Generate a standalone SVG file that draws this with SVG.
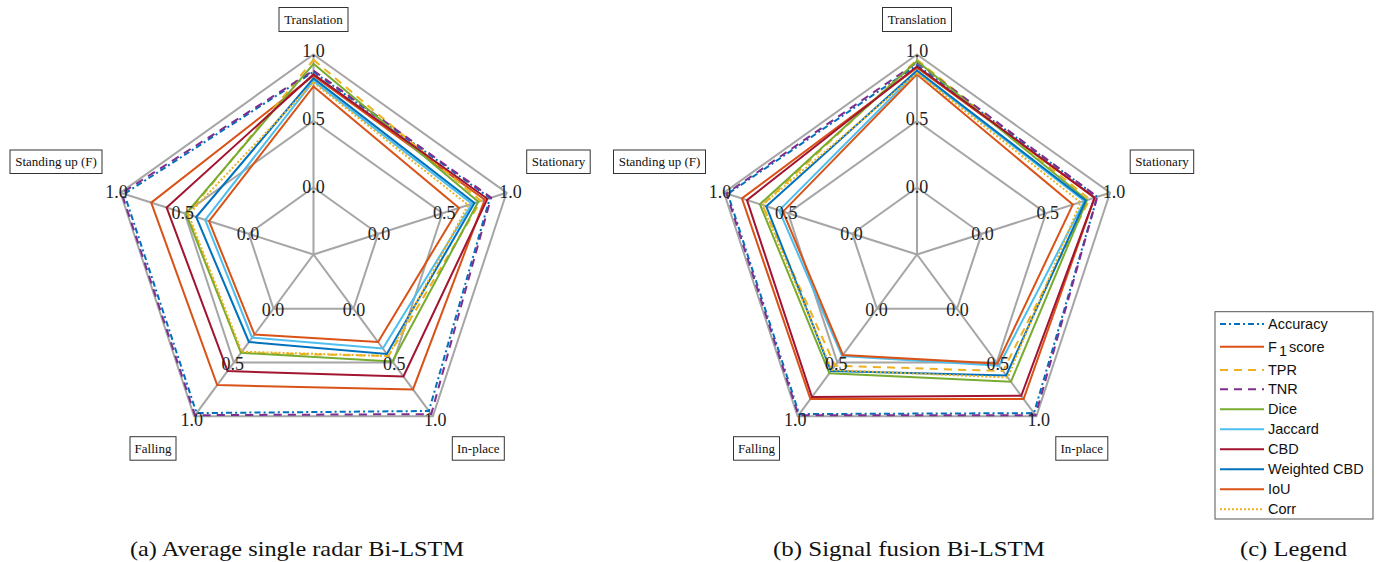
<svg xmlns="http://www.w3.org/2000/svg" width="1379" height="562" viewBox="0 0 1379 562">
<style>
.grid{fill:none;stroke:#a6a6a6;stroke-width:2}
.s{fill:none;stroke-width:2;stroke-linejoin:miter}
.acc{stroke:#0072BD;stroke-dasharray:6 3 2 3}
.f1{stroke:#D95319}
.tpr{stroke:#EDB120;stroke-dasharray:8 6}
.tnr{stroke:#7E2F8E;stroke-dasharray:8 6}
.dice{stroke:#77AC30}
.jac{stroke:#4DBEEE}
.cbd{stroke:#A2142F}
.wcbd{stroke:#0072BD}
.iou{stroke:#D95319}
.corr{stroke:#EDB120;stroke-dasharray:2 2}
.tick{font-family:"Liberation Serif",serif;font-size:18px;fill:#222;text-anchor:middle}
.lbl{font-family:"Liberation Serif",serif;font-size:13px;fill:#111;text-anchor:middle}
.box{fill:#fff;stroke:#333;stroke-width:1}
.leg{font-family:"Liberation Sans",Arial,sans-serif;font-size:14.5px;fill:#111}
.cap{font-family:"Liberation Serif",serif;font-size:21px;fill:#111;text-anchor:middle}
</style>
<defs>
<g id="gridshape">
<path class="grid" d="M0,0 L0,-200 M0,0 L190.2,-61.8 M0,0 L117.6,161.8 M0,0 L-117.6,161.8 M0,0 L-190.2,-61.8"/>
<path class="grid" d="M0,-200 L190.2,-61.8 L117.6,161.8 L-117.6,161.8 L-190.2,-61.8 Z"/>
<path class="grid" d="M0,-133.5 L127,-41.3 L78.5,108 L-78.5,108 L-127,-41.3 Z"/>
<path class="grid" d="M0,-67 L63.7,-20.7 L39.4,54.2 L-39.4,54.2 L-63.7,-20.7 Z"/>
</g>
</defs>

<!-- Plot (a) -->
<g id="radar-a" transform="translate(313.5,254.5) scale(1.015,1)">
<use href="#gridshape"/>
<g id="series-a">
<polygon class="s acc" points="0,-182.7 173.8,-56.5 113.7,156.5 -115.2,158.6 -186.4,-60.6"/>
<polygon class="s f1" points="0,-178.7 168.7,-54.8 98,134.9 -94.9,130.6 -159.9,-51.9"/>
<polygon class="s tpr" points="0,-194.7 164.9,-53.6 73.8,101.5 -71.4,98.3 -124.4,-40.4"/>
<polygon class="s tnr" points="0,-184 175,-56.9 116,159.6 -116.8,160.7 -189,-61.4"/>
<polygon class="s dice" points="0,-190.7 162.4,-52.7 77.7,107 -71.4,98.3 -125.7,-40.8"/>
<polygon class="s jac" points="0,-173.4 156.1,-50.7 68.3,94 -60.5,83.2 -106.7,-34.7"/>
<polygon class="s cbd" points="0,-180.1 171.3,-55.7 88.6,122 -84.7,116.6 -144.7,-47"/>
<polygon class="s wcbd" points="0,-176.1 158.6,-51.5 72.2,99.4 -63.6,87.5 -115.6,-37.5"/>
<polygon class="s iou" points="0,-168.1 143.4,-46.6 63.6,87.5 -58.1,80 -102.9,-33.4"/>
<polygon class="s corr" points="0,-172.1 152.3,-49.5 73.8,101.5 -70.7,97.2 -123.2,-40"/>
</g>
</g>
<g id="ticks-a" class="tick">
<text x="313.5" y="56.5">1.0</text><text x="510.4" y="197.5">1.0</text><text x="435.2" y="425.5">1.0</text><text x="191.8" y="425.5">1.0</text><text x="116.6" y="197.5">1.0</text>
<text x="313.5" y="125">0.5</text><text x="444.3" y="218.6">0.5</text><text x="394.3" y="370.1">0.5</text><text x="232.7" y="370.1">0.5</text><text x="182.7" y="218.6">0.5</text>
<text x="313.5" y="192.5">0.0</text><text x="379.1" y="239.5">0.0</text><text x="354.1" y="315.5">0.0</text><text x="272.9" y="315.5">0.0</text><text x="247.9" y="239.5">0.0</text>
</g>
<g id="label-a-translation"><rect class="box" x="279" y="7.5" width="69" height="24"/><text class="lbl" x="313.5" y="24">Translation</text></g>
<g id="label-a-stationary"><rect class="box" x="526.7" y="150" width="63.5" height="23.5"/><text class="lbl" x="558.5" y="166">Stationary</text></g>
<g id="label-a-standing"><rect class="box" x="10" y="150" width="92" height="23.5"/><text class="lbl" x="56" y="166">Standing up (F)</text></g>
<g id="label-a-falling"><rect class="box" x="130" y="436.7" width="46" height="23.5"/><text class="lbl" x="153" y="453">Falling</text></g>
<g id="label-a-inplace"><rect class="box" x="452.3" y="436.7" width="52" height="23.5"/><text class="lbl" x="478.3" y="453">In-place</text></g>

<!-- Plot (b) -->
<g id="radar-b" transform="translate(917,254.5) scale(1.015,1)">
<use href="#gridshape"/>
<g id="series-b">
<polygon class="s acc" points="0,-189.4 177.6,-57.7 115.2,158.6 -116,159.6 -186.4,-60.6"/>
<polygon class="s f1" points="0,-186.7 175,-56.9 105,144.6 -105,144.6 -172.5,-56.1"/>
<polygon class="s tpr" points="0,-194.7 170,-55.2 84.7,116.6 -80.8,111.2 -152.3,-49.5"/>
<polygon class="s tnr" points="0,-192 177.6,-57.7 116.8,160.7 -116.8,160.7 -187.7,-61"/>
<polygon class="s dice" points="0,-193.4 167.5,-54.4 92.5,127.3 -86.3,118.8 -154.8,-50.3"/>
<polygon class="s jac" points="0,-182.7 164.9,-53.6 80.8,111.2 -73.8,101.5 -135.8,-44.1"/>
<polygon class="s cbd" points="0,-188 175,-56.9 102.7,141.3 -103.5,142.5 -167.5,-54.4"/>
<polygon class="s wcbd" points="0,-184 166.2,-54 87.9,120.9 -84.7,116.6 -148.5,-48.2"/>
<polygon class="s iou" points="0,-180.1 153.5,-49.9 79.2,109.1 -73,100.5 -132,-42.9"/>
<polygon class="s corr" points="0,-181.4 161.1,-52.3 89.4,123 -83.9,115.5 -152.3,-49.5"/>
</g>
</g>
<g id="ticks-b" class="tick">
<text x="917" y="56.5">1.0</text><text x="1113.9" y="197.5">1.0</text><text x="1038.7" y="425.5">1.0</text><text x="795.3" y="425.5">1.0</text><text x="720.1" y="197.5">1.0</text>
<text x="917" y="125">0.5</text><text x="1047.8" y="218.6">0.5</text><text x="997.8" y="370.1">0.5</text><text x="836.2" y="370.1">0.5</text><text x="786.2" y="218.6">0.5</text>
<text x="917" y="192.5">0.0</text><text x="982.6" y="239.5">0.0</text><text x="957.6" y="315.5">0.0</text><text x="876.4" y="315.5">0.0</text><text x="851.4" y="239.5">0.0</text>
</g>
<g id="label-b-translation"><rect class="box" x="882.5" y="7.5" width="69" height="24"/><text class="lbl" x="917" y="24">Translation</text></g>
<g id="label-b-stationary"><rect class="box" x="1130.2" y="150" width="63.5" height="23.5"/><text class="lbl" x="1162" y="166">Stationary</text></g>
<g id="label-b-standing"><rect class="box" x="613.5" y="150" width="92" height="23.5"/><text class="lbl" x="659.5" y="166">Standing up (F)</text></g>
<g id="label-b-falling"><rect class="box" x="733.5" y="436.7" width="46" height="23.5"/><text class="lbl" x="756.5" y="453">Falling</text></g>
<g id="label-b-inplace"><rect class="box" x="1055.8" y="436.7" width="52" height="23.5"/><text class="lbl" x="1081.8" y="453">In-place</text></g>

<!-- Legend -->
<g id="legend">
<rect x="1215" y="311.7" width="158" height="207.3" fill="#fff" stroke="#555" stroke-width="1"/>
<line class="s acc" x1="1220" y1="324" x2="1264" y2="324"/><text class="leg" x="1268" y="329">Accuracy</text>
<line class="s f1" x1="1220" y1="346.7" x2="1264" y2="346.7"/><text class="leg" x="1268" y="351.7">F</text><text class="leg" x="1279" y="356" font-size="10.5px">1</text><text class="leg" x="1289" y="351.7">score</text>
<line class="s tpr" x1="1220" y1="370" x2="1264" y2="370"/><text class="leg" x="1268" y="375">TPR</text>
<line class="s tnr" x1="1220" y1="389.3" x2="1264" y2="389.3"/><text class="leg" x="1268" y="394.3">TNR</text>
<line class="s dice" x1="1220" y1="409.3" x2="1264" y2="409.3"/><text class="leg" x="1268" y="414.3">Dice</text>
<line class="s jac" x1="1220" y1="429.3" x2="1264" y2="429.3"/><text class="leg" x="1268" y="434.3">Jaccard</text>
<line class="s cbd" x1="1220" y1="449.3" x2="1264" y2="449.3"/><text class="leg" x="1268" y="454.3">CBD</text>
<line class="s wcbd" x1="1220" y1="469.3" x2="1264" y2="469.3"/><text class="leg" x="1268" y="474.3">Weighted CBD</text>
<line class="s iou" x1="1220" y1="489.3" x2="1264" y2="489.3"/><text class="leg" x="1268" y="494.3">IoU</text>
<line class="s corr" x1="1220" y1="509.3" x2="1264" y2="509.3"/><text class="leg" x="1268" y="514.3">Corr</text>
</g>

<!-- Captions -->
<g id="captions">
<text class="cap" x="297" y="556" textLength="334" lengthAdjust="spacingAndGlyphs">(a) Average single radar Bi-LSTM</text>
<text class="cap" x="909" y="556" textLength="272" lengthAdjust="spacingAndGlyphs">(b) Signal fusion Bi-LSTM</text>
<text class="cap" x="1293.5" y="556" textLength="107" lengthAdjust="spacingAndGlyphs">(c) Legend</text>
</g>
</svg>
